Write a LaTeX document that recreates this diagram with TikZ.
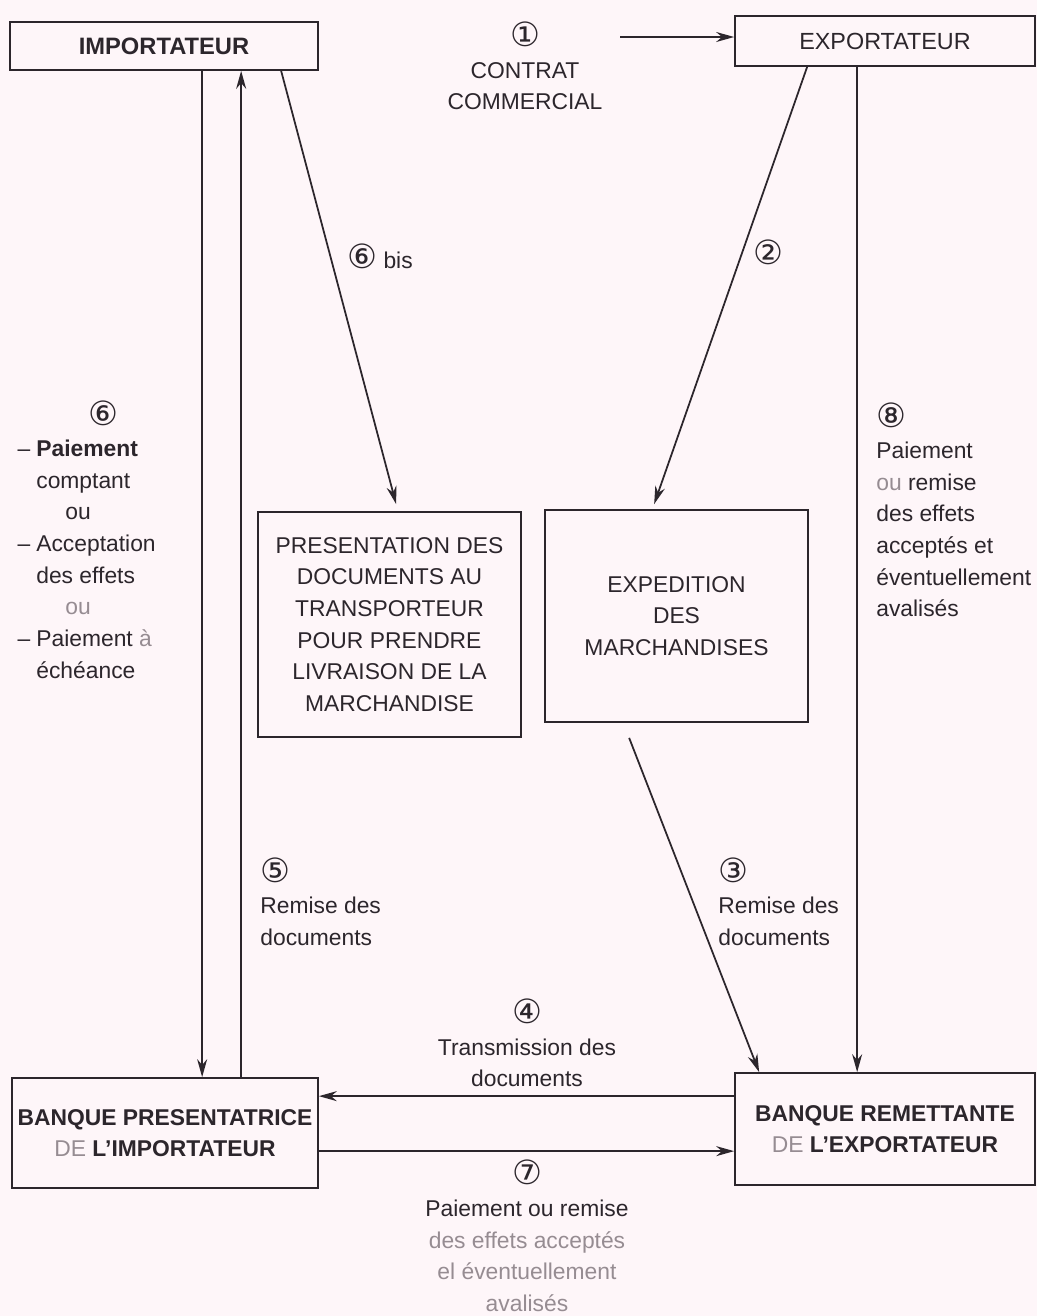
\documentclass[tikz,border=0pt]{standalone}
\usepackage{fontspec}
\setmainfont{Liberation Sans}
\newfontfamily\circfont{DejaVu Sans}
\usetikzlibrary{arrows.meta,calc}
\definecolor{bgpink}{RGB}{254,246,249}
\definecolor{ink}{RGB}{44,38,44}
\definecolor{pale}{RGB}{150,140,146}
\newcommand{\circnum}[1]{{\circfont\fontsize{19}{18}\selectfont #1}}
\newcommand{\dash}{\llap{--\hspace{0.12cm}}}

\begin{document}
\begin{tikzpicture}[x=0.02cm,y=-0.02cm,
 b/.style={draw=ink,line width=1pt,align=center,inner sep=0pt,text=ink,font=\fontsize{13}{18}\selectfont},
 t/.style={align=center,inner sep=0pt,text=ink,font=\fontsize{13}{18}\selectfont},
 tl/.style={t,align=left,anchor=north west},
 a/.style={-{Stealth[length=3.6mm,width=2mm]},line width=1pt,draw=ink}]
\path[fill=bgpink] (0,0) rectangle (1037,1316);
% parties
\node[b,minimum width=6.16cm,minimum height=.96cm,font=\fontsize{13.5}{18}\selectfont\bfseries] (imp) at (164,46) {IMPORTATEUR};
\node[b,minimum width=6cm,minimum height=1cm,font=\fontsize{13.3}{18}\selectfont] (exp) at (885,41) {EXPORTATEUR};
\node[b,minimum width=5.26cm,minimum height=4.5cm] (pres) at (389.5,624.5) {PRESENTATION DES\\DOCUMENTS AU\\TRANSPORTEUR\\POUR PRENDRE\\LIVRAISON DE LA\\MARCHANDISE};
\node[b,minimum width=5.26cm,minimum height=4.24cm] (expe) at (676.5,616) {EXPEDITION\\DES\\MARCHANDISES};
\node[b,minimum width=6.12cm,minimum height=2.2cm,font=\fontsize{13}{18}\selectfont\bfseries] (bpi) at (165,1133) {BANQUE PRESENTATRICE\\\textcolor{pale}{\mdseries DE} L'IMPORTATEUR};
\node[b,minimum width=6cm,minimum height=2.24cm,font=\fontsize{13}{18}\selectfont\bfseries] (bre) at (885,1129) {BANQUE REMETTANTE\\\textcolor{pale}{\mdseries DE} L'EXPORTATEUR};
% etapes
\node[t] (l1) at (525,66) {\circnum{①}\\CONTRAT\\COMMERCIAL};
\node[t] (l6b) at (380,256) {\circnum{⑥} bis};
\node[t] (l2) at (768,252) {\circnum{②}};
\node[tl] (l6) at (36,400) {\hspace*{1.04cm}\circnum{⑥}\\\dash\textbf{Paiement}\\comptant\\\hspace*{0.58cm}ou\\\dash Acceptation\\des effets\\\hspace*{0.58cm}\textcolor{pale}{ou}\\\dash Paiement \textcolor{pale}{à}\\échéance};
\node[tl] (l8) at (876,402) {\circnum{⑧}\\Paiement\\\textcolor{pale}{ou} remise\\des effets\\acceptés et\\éventuellement\\avalisés};
\node[tl] (l5) at (260,857) {\circnum{⑤}\\Remise des\\documents};
\node[tl] (l3) at (718,857) {\circnum{③}\\Remise des\\documents};
\node[t] (l4) at (527,1043) {\circnum{④}\\Transmission des\\documents};
\node[t] (l7) at (527,1236) {\circnum{⑦}\\Paiement ou remise\\\textcolor{pale}{des effets acceptés}\\\textcolor{pale}{el éventuellement}\\\textcolor{pale}{avalisés}};
% fleches
\coordinate (s1) at (620,37);
\draw[a] (s1) -- (s1 -| exp.west);
\draw[a] ($(imp.south west)+(193,0)$) coordinate (p6) -- (p6 |- bpi.north);
\draw[a] ($(bpi.north west)+(230,0)$) coordinate (p5) -- (p5 |- imp.south);
\draw[a] ($(exp.south west)+(123,0)$) coordinate (p8) -- (p8 |- bre.north);
\draw[a] ($(imp.south west)+(272,0)$) -- ($(pres.north west)+(139,-7)$);
\draw[a] ($(exp.south west)+(73,0)$) -- ($(expe.north west)+(110,-5)$);
\draw[a] ($(expe.south west)+(85,15)$) -- ($(bre.north west)+(25,0)$);
\draw[a] ($(bre.north west)+(0,24)$) coordinate (p4) -- (p4 -| bpi.east);
\draw[a] ($(bpi.north east)+(0,74)$) coordinate (p7) -- (p7 -| bre.west);
\end{tikzpicture}
\end{document}
